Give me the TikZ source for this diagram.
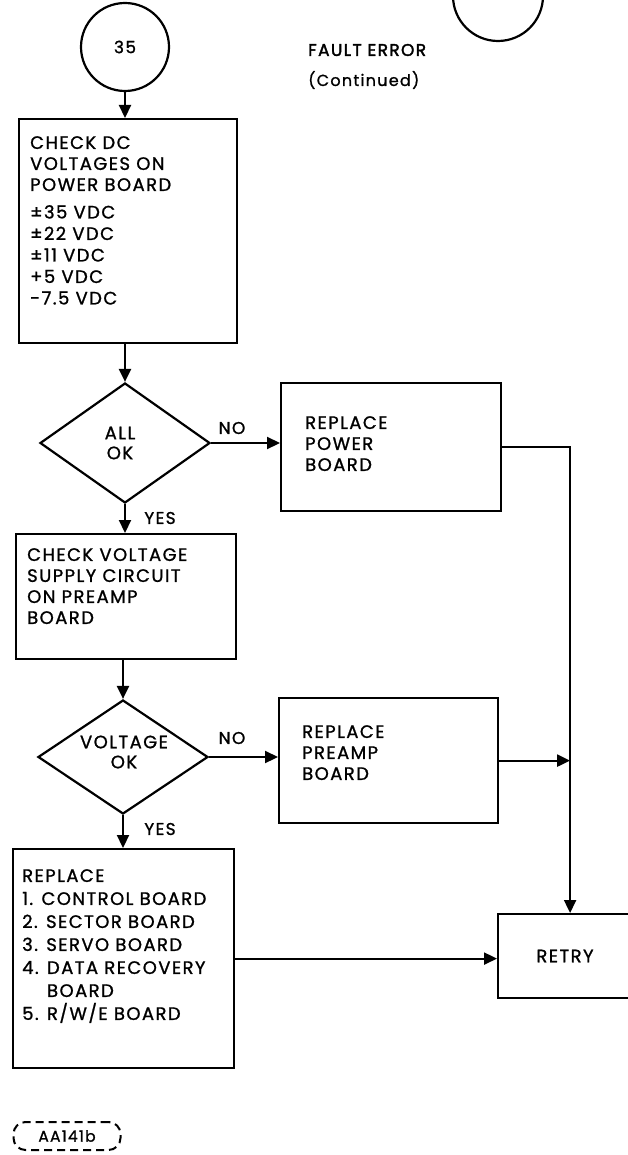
\documentclass[tikz,border=0pt]{standalone}
\usepackage{fontspec}
\setmainfont{Poppins}[LetterSpace=8, FakeBold=1.1]
\usetikzlibrary{arrows.meta,shapes.geometric}
\tikzset{
  box/.style={draw, line width=2.2pt, anchor=north west, inner sep=0pt},
  dia/.style={draw, diamond, line width=2.2pt, inner sep=0pt},
  txt/.style={anchor=north west, inner sep=0pt, align=left, font=\fontsize{18}{21}\selectfont},
  ctxt/.style={inner sep=0pt, align=center, font=\fontsize{18}{20}\selectfont},
  lbl/.style={inner sep=0pt, font=\fontsize{17}{18}\selectfont},
  arr/.style={line width=2.2pt, -{Triangle[length=13pt,width=12pt]}}
}
\begin{document}
\begin{tikzpicture}[x=1pt,y=-1pt]
\useasboundingbox (0,0) rectangle (628,1155);
\clip (0,0) rectangle (628,1155);
% connector circles
\node[draw, circle, line width=2.2pt, minimum size=88, inner sep=0pt, font=\fontsize{17}{18}\selectfont] (c35) at (125,47) {35};
\node[draw, circle, line width=2.2pt, minimum size=90, inner sep=0pt] (ctop) at (498,-4) {};
\node[anchor=west, inner sep=0pt, font=\fontsize{17}{18}\selectfont\addfontfeatures{FakeBold=2}] (title) at (308,50) {FAULT ERROR};
\node[anchor=west, inner sep=0pt, font=\fontsize{16}{18}\selectfont] (cont) at (308,80) {(Continued)};
% box 1
\node[box, minimum width=218, minimum height=224] (b1) at (18,118) {};
\node[txt] (t1a) at (30,136) {CHECK DC\\VOLTAGES ON\\POWER BOARD};
\node[txt, font=\fontsize{18}{21.5}\selectfont] (t1b) at (30,205) {±35 VDC\\±22 VDC\\±11 VDC\\+5 VDC\\-7.5 VDC};
% diamond 1
\node[dia, minimum width=170, minimum height=120] (d1) at (125,443) {};
\node[ctxt] (t d1) at (120,443) {ALL\\OK};
% box 2
\node[box, minimum width=220, minimum height=128] (b2) at (280,382) {};
\node[txt] (t2) at (305,416) {REPLACE\\POWER\\BOARD};
% box 3
\node[box, minimum width=220, minimum height=125] (b3) at (15,533) {};
\node[txt] (t3) at (27,548) {CHECK VOLTAGE\\SUPPLY CIRCUIT\\ON PREAMP\\BOARD};
% diamond 2
\node[dia, minimum width=170, minimum height=114] (d2) at (123,757) {};
\node[ctxt] (t d2) at (124,752) {VOLTAGE\\OK};
% box 4
\node[box, minimum width=219, minimum height=125] (b4) at (278,697) {};
\node[txt] (t4) at (302,725) {REPLACE\\PREAMP\\BOARD};
% box 5
\node[box, minimum width=221, minimum height=219] (b5) at (12,848) {};
\node[txt, font=\fontsize{18}{23}\selectfont] (t5) at (22,869) {REPLACE\\1. CONTROL BOARD\\2. SECTOR BOARD\\3. SERVO BOARD\\4. DATA RECOVERY\\\hphantom{4. }BOARD\\5. R/W/E BOARD};
% retry
\node[box, minimum width=144, minimum height=84] (retry) at (497,913) {};
\node[ctxt] (tr) at (565,956) {RETRY};
% labels
\node[lbl] (no1) at (232,428) {NO};
\node[lbl] (yes1) at (160,518) {YES};
\node[lbl] (no2) at (232,738) {NO};
\node[lbl] (yes2) at (160,829) {YES};
% tag
\node[draw, dashed, dash pattern=on 8pt off 5pt, rounded corners=12pt, line width=2pt, minimum width=107, minimum height=28, inner sep=0pt, font=\fontsize{15.5}{16}\selectfont] (tag) at (67,1136) {AA141b};
% connectors
\draw[arr] (c35.south) -- (c35.south |- b1.north);
\draw[arr] (d1.north |- b1.south) -- (d1.north);
\draw[arr] (d1.east) -- (d1.east -| b2.west);
\draw[arr] (d1.south) -- (d1.south |- b3.north);
\draw[arr] (d2.north |- b3.south) -- (d2.north);
\draw[arr] (d2.east) -- (d2.east -| b4.west);
\draw[arr] (d2.south) -- (d2.south |- b5.north);
\draw[arr] (b2.east) -| (retry.north);
\coordinate (j) at (retry.north |- b4.east);
\draw[arr] (b4.east) -- (j);
\draw[arr] (b5.east) -- (b5.east -| retry.west);
\end{tikzpicture}
\end{document}
